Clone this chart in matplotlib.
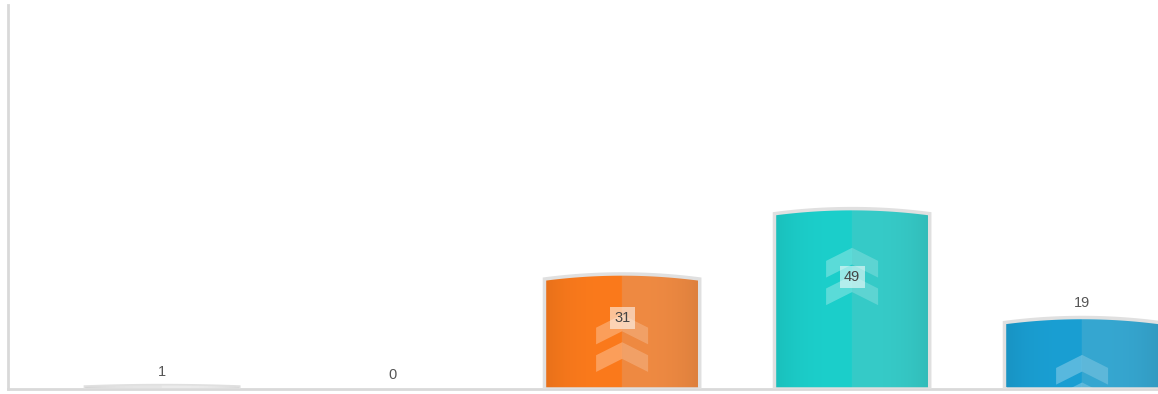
import matplotlib.pyplot as plt
import numpy as np
from matplotlib.path import Path
from matplotlib.patches import PathPatch, Polygon
from matplotlib.colors import to_rgb

# values per column
values = [1, 0, 31, 49, 19]
left_colors = ['#e6e6e6', '#e6e6e6', '#fb7a1c', '#1ccfcb', '#1a9fd3']
right_colors = ['#ececec', '#ececec', '#ef8a42', '#36cbc8', '#36a7d1']
# where the chevron stack starts inside each bar (None = no chevrons)
chevron_base = [None, None, 4.7, 23.1, -6.4]

bar_w = 0.675


def bar_path(cx, h):
    bump = min(0.7, 0.2 * h)
    x0, x1 = cx - bar_w / 2, cx + bar_w / 2
    t = np.linspace(0, 1, 40)
    xs = x0 + (x1 - x0) * t
    ys = h - bump + 2 * bump * (1 - (2 * t - 1) ** 2)
    verts = [(x0, 0)] + list(zip(xs, ys)) + [(x1, 0), (x0, 0)]
    codes = [Path.MOVETO] + [Path.LINETO] * (len(verts) - 2) + [Path.CLOSEPOLY]
    return Path(verts, codes)


def gradient(c_left, c_right, n=200):
    a, b = np.array(to_rgb(c_left)), np.array(to_rgb(c_right))
    t = np.linspace(0, 1, n)
    img = np.where(t[:, None] < 0.5, a, b)
    # darker towards both outer edges
    shade = 1 - 0.08 * np.abs(2 * t - 1) ** 3
    img = img * shade[:, None]
    return img[None, :, :]


def chevron(cx, yb, hw=0.113, rise=3.6, thick=4.6):
    return [(cx - hw, yb), (cx, yb + rise), (cx + hw, yb),
            (cx + hw, yb + thick), (cx, yb + rise + thick), (cx - hw, yb + thick)]


fig = plt.figure(figsize=(11.58, 3.94), dpi=100)
ax = fig.add_axes([8 / 1158, 5 / 394, 1150 / 1158, 384 / 394])
ax.set_xlim(-0.67, 4.33)
ax.set_ylim(0, 105.8)

for i, v in enumerate(values):
    if v <= 0:
        ax.text(i, v + 3.8, str(v), ha='center', va='center',
                fontsize=10.5, color='#555555', family='Liberation Sans')
        continue
    path = bar_path(i, v)
    clip = PathPatch(path, facecolor='none', edgecolor='none')
    ax.add_patch(clip)
    im = ax.imshow(gradient(left_colors[i], right_colors[i]),
                   extent=(i - bar_w / 2, i + bar_w / 2, 0, v + 1.5),
                   aspect='auto', zorder=1, interpolation='bilinear')
    im.set_clip_path(clip)
    ax.add_patch(PathPatch(path, facecolor='none', edgecolor='#e0e0e0',
                           lw=2.5 if v > 3 else 1.2, zorder=3))

    if chevron_base[i] is not None:
        for k in range(2):
            pts = chevron(i, chevron_base[i] + 7.6 * k)
            poly_l = Polygon([pts[0], pts[1], pts[4], pts[5]], closed=True,
                             facecolor='white', alpha=0.28, edgecolor='none', zorder=2)
            poly_r = Polygon([pts[1], pts[2], pts[3], pts[4]], closed=True,
                             facecolor='white', alpha=0.20, edgecolor='none', zorder=2)
            for p in (poly_l, poly_r):
                ax.add_patch(p)
                p.set_clip_path(clip)

    if v >= 25:
        ax.text(i, v * 0.63, str(v), ha='center', va='center', fontsize=10.5,
                color='#444444', family='Liberation Sans', zorder=4,
                bbox=dict(boxstyle='square,pad=0.3', facecolor='white',
                          edgecolor='none', alpha=0.55))
    else:
        ax.text(i, v + 3.6 + min(1.2, 0.06 * v), str(v), ha='center', va='center',
                fontsize=10.5, color='#555555', family='Liberation Sans')

for side in ('top', 'right'):
    ax.spines[side].set_visible(False)
for side in ('left', 'bottom'):
    ax.spines[side].set_color('#d9d9d9')
    ax.spines[side].set_linewidth(2)
ax.set_xticks([])
ax.set_yticks([])

fig.savefig('out.png', dpi=100)
